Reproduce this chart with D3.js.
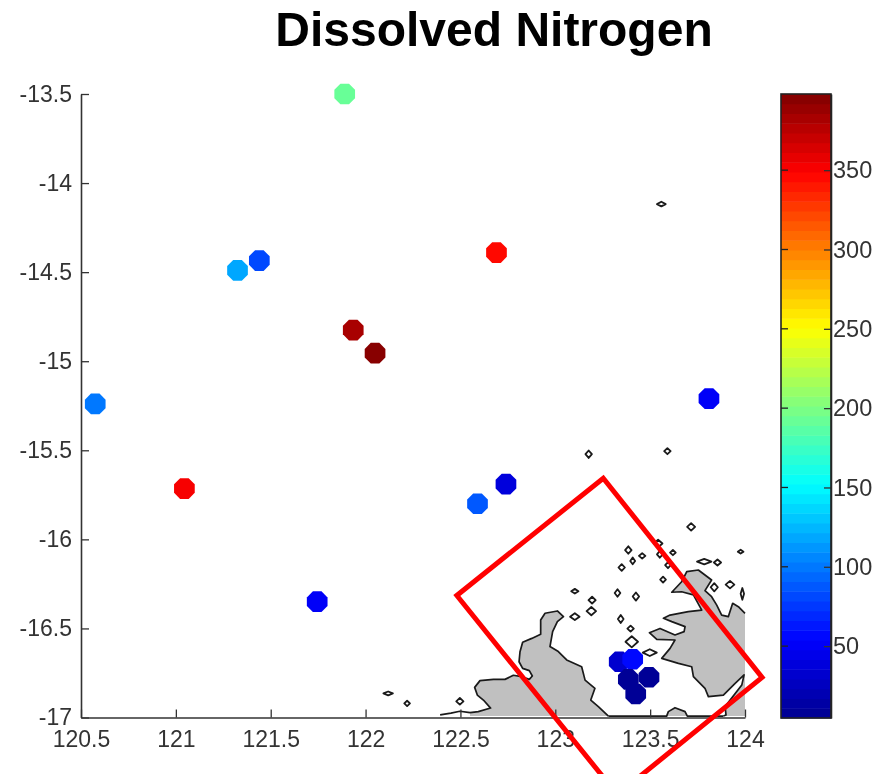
<!DOCTYPE html>
<html>
<head>
<meta charset="utf-8">
<script src="https://cdn.jsdelivr.net/npm/d3@7/dist/d3.min.js"></script>
<style>
html,body{margin:0;padding:0;background:#fff;}
svg{display:block;filter:blur(0.5px);}
text{font-family:"Liberation Sans",Arial,sans-serif;}
</style>
</head>
<body>
<svg id="c" width="885" height="774"></svg>
<script>
const titleText = "Dissolved Nitrogen";
const xTicks = [120.5,121,121.5,122,122.5,123,123.5,124];
const yTicks = [-13.5,-14,-14.5,-15,-15.5,-16,-16.5,-17];
const cTicks = [50,100,150,200,250,300,350];

const lons = [121.89,122.69,121.44,121.325,121.935,122.05,120.575,123.81,121.045,122.74,122.59,121.745,123.337,123.408,123.494,123.385,123.424];
const lats = [-13.50,-14.39,-14.435,-14.49,-14.825,-14.955,-15.24,-15.21,-15.715,-15.69,-15.80,-16.35,-16.687,-16.673,-16.774,-16.786,-16.868];
const vals = [191,344,83,118,382,398,100,50,349,40,90,50,30,54,8,8,8];

const shoreWest = [[122.393,-16.985],[122.45,-16.975],[122.497,-16.965],[122.5505,-16.973]];
const landWest = [[122.5505,-16.973],[122.594,-16.967],[122.659,-16.947],[122.621,-16.902],[122.589,-16.874],[122.575,-16.831],[122.603,-16.793],[122.674,-16.786],[122.735,-16.786],[122.779,-16.763],[122.823,-16.771],[122.863,-16.786],[122.879,-16.767],[122.863,-16.737],[122.828,-16.724],[122.809,-16.687],[122.814,-16.631],[122.828,-16.578],[122.876,-16.556],[122.923,-16.533],[122.923,-16.453],[122.946,-16.415],[123.011,-16.402],[123.043,-16.434],[123.011,-16.462],[122.986,-16.518],[122.972,-16.602],[123.016,-16.630],[123.060,-16.677],[123.139,-16.715],[123.157,-16.790],[123.209,-16.836],[123.187,-16.902],[123.227,-16.939],[123.280,-16.992]];
const landEast = [[124.0,-16.415],[123.965,-16.378],[123.935,-16.359],[123.912,-16.434],[123.877,-16.425],[123.851,-16.369],[123.824,-16.322],[123.789,-16.288],[123.824,-16.228],[123.789,-16.200],[123.754,-16.172],[123.693,-16.181],[123.666,-16.238],[123.614,-16.297],[123.666,-16.294],[123.728,-16.312],[123.772,-16.397],[123.701,-16.406],[123.605,-16.425],[123.570,-16.443],[123.614,-16.462],[123.684,-16.490],[123.679,-16.518],[123.631,-16.537],[123.552,-16.500],[123.496,-16.524],[123.535,-16.561],[123.631,-16.565],[123.605,-16.612],[123.561,-16.668],[123.649,-16.696],[123.719,-16.715],[123.728,-16.771],[123.789,-16.836],[123.807,-16.883],[123.886,-16.874],[123.948,-16.808],[123.995,-16.761],[123.983,-16.818],[123.895,-16.939],[123.900,-16.986],[123.886,-16.992]];
const landEastClose = [[124.0,-16.992]];
const shoreSouth = [[123.280,-16.992],[123.587,-16.992],[123.596,-16.967],[123.631,-16.945],[123.684,-16.967],[123.696,-16.992],[123.886,-16.992]];
const islandLon = [123.176,123.591,123.716,123.385,123.458,123.408,123.350,123.542,123.551,123.620,123.594,123.568,123.785,123.855,123.977,123.838,123.921,123.986,123.103,123.194,123.190,123.103,123.328,123.425,123.345,123.397,123.403,123.498,122.497,123.559,122.119,122.219];
const islandLat = [-15.522,-15.505,-15.930,-16.060,-16.093,-16.121,-16.158,-16.023,-16.084,-16.074,-16.145,-16.226,-16.125,-16.130,-16.069,-16.269,-16.254,-16.306,-16.291,-16.341,-16.403,-16.434,-16.301,-16.321,-16.447,-16.501,-16.575,-16.636,-16.909,-14.118,-16.865,-16.921];
const islandDx = [.017,.017,.021,.017,.017,.013,.017,.023,.015,.015,.015,.015,.038,.019,.015,.019,.023,.009,.019,.019,.025,.025,.015,.017,.015,.017,.033,.037,.019,.023,.025,.015];
const islandDy = [.021,.017,.021,.021,.015,.019,.019,.021,.019,.015,.017,.017,.015,.017,.011,.023,.021,.033,.013,.019,.023,.019,.021,.023,.023,.017,.031,.019,.019,.013,.011,.015];
const boxLon = [123.253,124.09,123.327,122.481];
const boxLat = [-15.657,-16.775,-17.433,-16.315];

const cMin = 4.7, cMax = 398, nBands = 64;
const jetStops = [0,0.125,0.375,0.625,0.875,1];
const jetColors = ["#00008f","#0000ff","#00ffff","#ffff00","#ff0000","#800000"];

const svg = d3.select("#c");
const x = d3.scaleLinear().domain([120.5,124]).range([81,745]);
const y = d3.scaleLinear().domain([-13.5,-17]).range([94,717.5]);
const cy = d3.scaleLinear().domain([cMin,cMax]).range([718,94]);
const jet = d3.scaleLinear().domain(jetStops).range(jetColors).clamp(true);
const colorOf = v => {
  const b = Math.min(nBands-1, Math.floor((v-cMin)/(cMax-cMin)*nBands));
  return jet((b+0.5)/nBands);
};
const line = d3.line().x(d=>x(d[0])).y(d=>y(d[1]));

svg.append("text").attr("x",494).attr("y",46).attr("text-anchor","middle")
  .attr("font-size",48).attr("font-weight","bold").attr("fill","#000").text(titleText);

// land
const westFill = landWest.concat([[122.5505,-16.992]]);
const eastFill = landEast.concat(landEastClose);
svg.selectAll("path.land").data([westFill,eastFill,shoreSouth.slice(1,6)]).join("path").attr("class","land")
  .attr("d",d=>line(d)+"Z").attr("fill","#c0c0c0").attr("stroke","none");
svg.selectAll("path.coast").data([shoreWest,landWest,landEast,shoreSouth]).join("path").attr("class","coast")
  .attr("d",line).attr("fill","none").attr("stroke","#1a1a1a").attr("stroke-width",1.7).attr("stroke-linejoin","round");
svg.selectAll("path.island").data(islandLon.map((d,i)=>i)).join("path").attr("class","island")
  .attr("d",i=>line([[islandLon[i]-islandDx[i],islandLat[i]],[islandLon[i],islandLat[i]+islandDy[i]],[islandLon[i]+islandDx[i],islandLat[i]],[islandLon[i],islandLat[i]-islandDy[i]]])+"Z")
  .attr("fill","#fff").attr("stroke","#1a1a1a").attr("stroke-width",1.8).attr("stroke-linejoin","round");

// axes
const styleAxis = size => g => {
  g.selectAll("path.domain").attr("stroke","#333").attr("stroke-width",1.6);
  g.selectAll("line").attr("stroke","#333").attr("stroke-width",1.3);
  g.selectAll("text").attr("fill","#333").attr("font-size",size).style("font-family",'"Liberation Sans",Arial,sans-serif');
};
svg.append("g").attr("transform","translate(0,717.5)")
  .call(d3.axisBottom(x).tickValues(xTicks).tickFormat(d=>String(d)).tickSize(-8).tickSizeOuter(0).tickPadding(13))
  .call(styleAxis(23));
svg.append("g").attr("transform","translate(81,0)")
  .call(d3.axisLeft(y).tickValues(yTicks).tickFormat(d=>String(d)).tickSize(-8).tickSizeOuter(0).tickPadding(9))
  .call(styleAxis(23));

// points
const octagon = d3.lineRadial().angle(d=>d*Math.PI/4+Math.PI/8).radius(11.2);
svg.selectAll("path.pt").data(vals.map((d,i)=>i)).join("path").attr("class","pt")
  .attr("transform",i=>`translate(${x(lons[i])},${y(lats[i])})`)
  .attr("d",octagon(d3.range(8))+"Z")
  .attr("fill",i=>colorOf(vals[i]));

// red box
svg.append("path").attr("d",line(boxLon.map((d,i)=>[d,boxLat[i]]))+"Z")
  .attr("fill","none").attr("stroke","#ff0000").attr("stroke-width",5).attr("stroke-linejoin","miter");

// colour bar
const bandEdges = d3.range(nBands+1).map(i=>cMin+(cMax-cMin)*i/nBands);
svg.selectAll("rect.band").data(d3.range(nBands)).join("rect").attr("class","band")
  .attr("x",781).attr("width",50)
  .attr("y",i=>cy(bandEdges[i+1])).attr("height",i=>cy(bandEdges[i])-cy(bandEdges[i+1])+0.5)
  .attr("fill",i=>jet((i+0.5)/nBands));
svg.append("g").attr("transform","translate(831,0)")
  .call(d3.axisRight(cy).tickValues(cTicks).tickFormat(d=>String(d)).tickSize(-7).tickSizeOuter(0).tickPadding(2))
  .call(styleAxis(23.5));
svg.selectAll("line.lt").data(cTicks).join("line").attr("class","lt")
  .attr("x1",781).attr("x2",788).attr("y1",d=>cy(d)).attr("y2",d=>cy(d)).attr("stroke","#222").attr("stroke-width",1.3);
svg.append("rect").attr("x",781).attr("y",94).attr("width",50).attr("height",624)
  .attr("fill","none").attr("stroke","#222").attr("stroke-width",1.6);
</script>
</body>
</html>
